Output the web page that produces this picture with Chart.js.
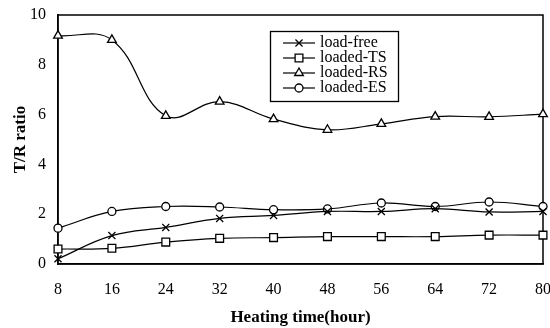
<!DOCTYPE html>
<html>
<head>
<meta charset="utf-8">
<script src="https://cdn.jsdelivr.net/npm/chart.js@4.4.1/dist/chart.umd.min.js"></script>
<style>
html,body{margin:0;padding:0;background:#fff;}
#wrap{width:550px;height:328px;position:relative;}
</style>
</head>
<body>
<div id="wrap"><canvas id="c" width="550" height="328"></canvas></div>
<script>
const hours = [8, 16, 24, 32, 40, 48, 56, 64, 72, 80];
const loadFree = [0.21, 1.14, 1.47, 1.83, 1.95, 2.11, 2.11, 2.22, 2.09, 2.11];
const loadedTS = [0.60, 0.63, 0.88, 1.03, 1.06, 1.10, 1.10, 1.10, 1.16, 1.16];
const loadedRS = [9.17, 9.00, 5.95, 6.52, 5.82, 5.39, 5.63, 5.92, 5.91, 6.02];
const loadedES = [1.44, 2.11, 2.31, 2.29, 2.18, 2.21, 2.45, 2.31, 2.49, 2.31];
const seriesNames = ['load-free', 'loaded-TS', 'loaded-RS', 'loaded-ES'];
const yTicks = [0, 2, 4, 6, 8, 10];

const styles = [
  {pointStyle: 'crossRot', radius: 5},
  {pointStyle: 'rect', radius: 5.5},
  {pointStyle: 'triangle', radius: 5},
  {pointStyle: 'circle', radius: 4}
];
const allData = [loadFree, loadedTS, loadedRS, loadedES];

const datasets = allData.map((d, i) => ({
  label: seriesNames[i],
  data: hours.map((h, j) => ({x: h, y: d[j]})),
  borderColor: '#000',
  borderWidth: 1.2,
  backgroundColor: '#fff',
  pointBackgroundColor: '#fff',
  pointBorderColor: '#000',
  pointBorderWidth: 1.3,
  pointStyle: styles[i].pointStyle,
  pointRadius: styles[i].radius,
  tension: 0.4,
  fill: false,
  clip: false
}));

const legendPlugin = {
  id: 'boxLegend',
  afterDraw(chart) {
    const ctx = chart.ctx;
    ctx.save();
    ctx.strokeStyle = '#000';
    ctx.lineWidth = 1.3;
    ctx.strokeRect(270.5, 31.5, 128, 70);
    const rows = [43, 58, 73, 88];
    ctx.font = '16px "Liberation Serif", serif';
    ctx.textBaseline = 'middle';
    ctx.fillStyle = '#000';
    rows.forEach((y, i) => {
      ctx.beginPath();
      ctx.lineWidth = 1.2;
      ctx.moveTo(283, y);
      ctx.lineTo(315, y);
      ctx.stroke();
      ctx.lineWidth = 1.3;
      ctx.fillStyle = '#fff';
      Chart.helpers.drawPoint(ctx, {pointStyle: styles[i].pointStyle, radius: styles[i].radius, rotation: 0, borderWidth: 1.3}, 299, y);
      ctx.fillStyle = '#000';
      ctx.fillText(seriesNames[i], 320, y);
    });
    ctx.restore();
  }
};

const frame = {
  id: 'frame',
  beforeDatasetsDraw(chart) {
    const a = chart.chartArea, ctx = chart.ctx;
    ctx.save();
    ctx.strokeStyle = '#000';
    ctx.lineWidth = 1.5;
    ctx.strokeRect(a.left, a.top, a.right - a.left, a.bottom - a.top);
    ctx.restore();
  }
};

new Chart(document.getElementById('c'), {
  type: 'line',
  data: {datasets},
  plugins: [frame, legendPlugin],
  options: {
    responsive: false,
    animation: false,
    devicePixelRatio: 1,
    layout: {padding: {top: 15, right: 7, left: 0, bottom: 0}},
    plugins: {legend: {display: false}, tooltip: {enabled: false}},
    scales: {
      x: {
        type: 'linear',
        min: 8, max: 80,
        afterBuildTicks(s) { s.ticks = hours.map(v => ({value: v})); },
        afterFit(s) { s.height = 64; s.paddingLeft = 0; s.paddingRight = 0; },
        grid: {display: false, drawTicks: false},
        border: {display: true, color: '#000', width: 1.5},
        ticks: {color: '#000', padding: 16, font: {family: '"Liberation Serif", serif', size: 16}, maxRotation: 0},
        title: {display: true, text: 'Heating time(hour)', color: '#000', font: {family: '"Liberation Serif", serif', size: 17, weight: 'bold'}, padding: {top: 10, bottom: 0}}
      },
      y: {
        min: 0, max: 10,
        afterBuildTicks(s) { s.ticks = yTicks.map(v => ({value: v})); },
        afterFit(s) { s.width = 58; s.paddingTop = 0; s.paddingBottom = 0; },
        grid: {display: false, drawTicks: false},
        border: {display: true, color: '#000', width: 1.5},
        ticks: {color: '#000', padding: 12, font: {family: '"Liberation Serif", serif', size: 16}},
        title: {display: true, text: 'T/R ratio', color: '#000', font: {family: '"Liberation Serif", serif', size: 17, weight: 'bold'}, padding: {top: 10, bottom: 0}}
      }
    }
  }
});
</script>
</body>
</html>
